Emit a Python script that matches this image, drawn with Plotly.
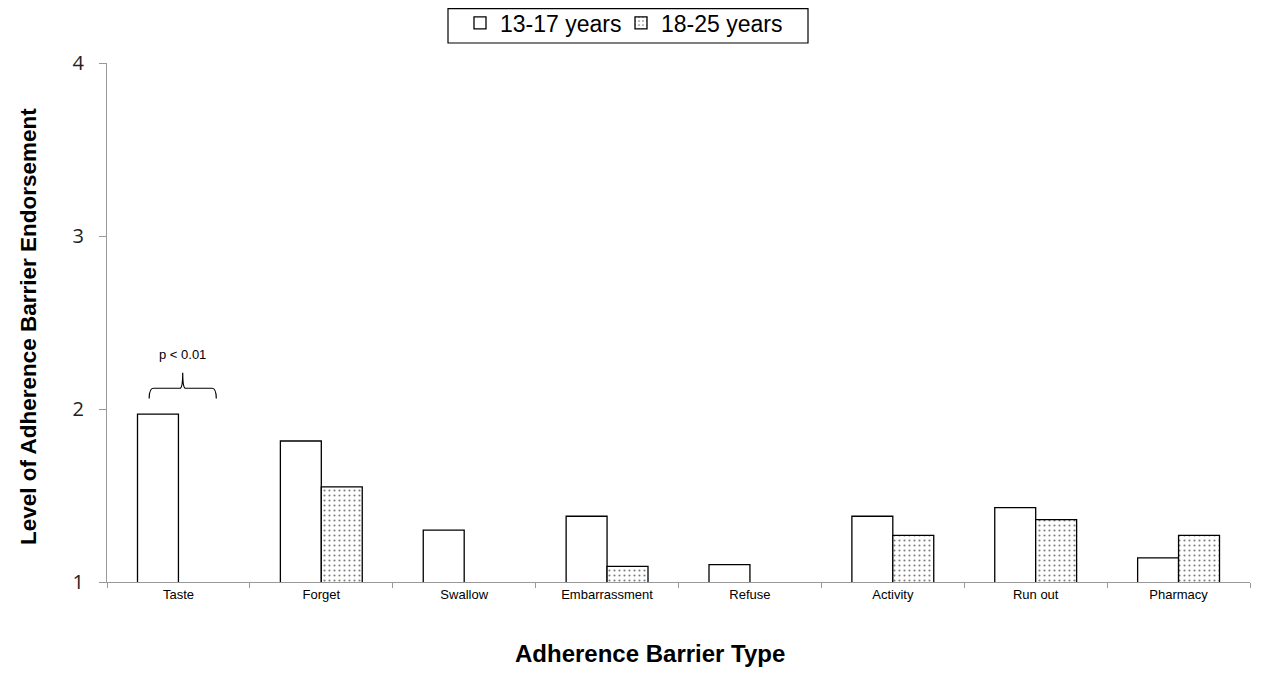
import plotly.graph_objects as go

categories = ["Taste", "Forget", "Swallow", "Embarrassment", "Refuse", "Activity", "Run out", "Pharmacy"]
teens = [1.97, 1.815, 1.30, 1.38, 1.10, 1.38, 1.43, 1.14]
young_adults = [None, 1.55, None, 1.09, None, 1.27, 1.36, 1.27]
y_ticks = [1, 2, 3, 4]

W, H = 1265, 673
OFF = 8  # page body margin offset
L, R, T, B = 107 - OFF, 15 + OFF, 63 - OFF, 91 + OFF
PW, PH = W - L - R, H - T - B


def px_to_paper(px, py):
    # screen pixel -> paper coords
    return (px - OFF - L) / PW, (H - B - (py - OFF)) / PH


fig = go.Figure()
fig.add_trace(go.Bar(
    x=categories, y=teens, name="13-17 years",
    marker=dict(color="white", line=dict(color="black", width=1.3)),
))
fig.add_trace(go.Bar(
    x=categories, y=young_adults, name="18-25 years",
    marker=dict(color="white", line=dict(color="black", width=1.3),
                pattern=dict(shape=".", fgcolor="black", bgcolor="white", size=5, solidity=0.15)),
))

# bracket over Taste
x0, x1, xm = -0.205, 0.265, 0.03
yb, yt, ytop = 2.06, 2.12, 2.21
path = (f"M {x0},{yb} Q {x0},{yt} {x0+0.03},{yt} L {xm-0.02},{yt} Q {xm},{yt} {xm},{ytop} "
        f"Q {xm},{yt} {xm+0.02},{yt} L {x1-0.03},{yt} Q {x1},{yt} {x1},{yb}")
fig.add_shape(type="path", path=path, xref="x", yref="y", line=dict(color="black", width=1.2))
fig.add_annotation(x=0.03, y=2.26, xref="x", yref="y", text="p < 0.01", showarrow=False,
                   yanchor="bottom", font=dict(family="Liberation Sans, Arial", size=13, color="black"))

# axis titles
ax, ay = px_to_paper(650, 653)
fig.add_annotation(x=ax, y=ay, xref="paper", yref="paper", text="<b>Adherence Barrier Type</b>",
                   showarrow=False, xanchor="center", yanchor="middle",
                   font=dict(family="Liberation Sans, Arial", size=24, color="black"))
bx, by = px_to_paper(28, 327)
fig.add_annotation(x=bx, y=by, xref="paper", yref="paper",
                   text="<b>Level of Adherence Barrier Endorsement</b>", textangle=-90,
                   showarrow=False, xanchor="center", yanchor="middle",
                   font=dict(family="Liberation Sans, Arial", size=22.5, color="black"))

# legend frame
rx0, ry0 = px_to_paper(448, 43)
rx1, ry1 = px_to_paper(808, 8.7)
fig.add_shape(type="rect", xref="paper", yref="paper", x0=rx0, x1=rx1, y0=ry0, y1=ry1,
              line=dict(color="black", width=1.2), fillcolor="rgba(0,0,0,0)", layer="above")

lx, ly = px_to_paper(460, 23)

fig.update_layout(
    width=W, height=H,
    margin=dict(l=L, r=R, t=T, b=B, autoexpand=False),
    plot_bgcolor="white", paper_bgcolor="white",
    barmode="group", bargap=0.427, bargroupgap=0,
    showlegend=True,
    legend=dict(orientation="h", xref="paper", yref="paper",
                x=lx, xanchor="left", y=ly, yanchor="middle",
                bgcolor="rgba(0,0,0,0)", borderwidth=0, entrywidth=116,
                font=dict(family="Liberation Sans, Arial", size=23, color="black"),
                traceorder="normal"),
    xaxis=dict(
        automargin=False,
        showline=True, linecolor="#999999", linewidth=1.3,
        ticks="outside", tickson="boundaries", ticklen=5, tickcolor="#999999",
        tickfont=dict(family="Liberation Sans, Arial", size=13, color="black"),
        showgrid=False,
    ),
    yaxis=dict(
        automargin=False,
        range=[1, 4], tickvals=y_ticks,
        showline=True, linecolor="#999999", linewidth=1.3,
        ticks="outside", ticklen=7, tickcolor="#999999", ticklabelstandoff=11,
        tickfont=dict(family="Open Sans, Liberation Sans", size=20, color="#222222"),
        showgrid=False, zeroline=False,
    ),
)

fig.write_html("out.html")
